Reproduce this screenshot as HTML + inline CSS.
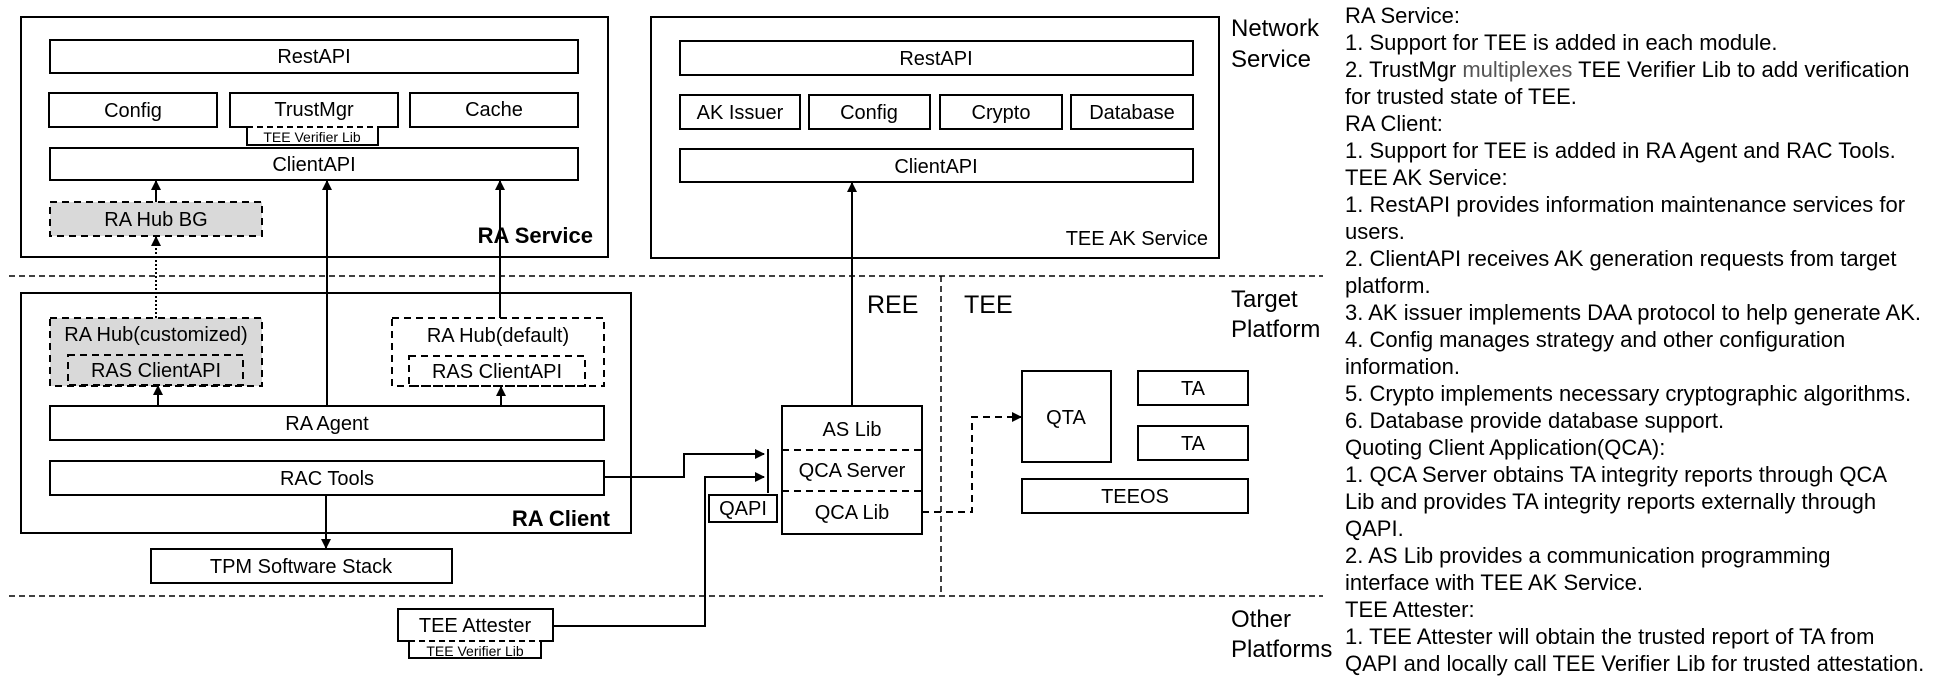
<!DOCTYPE html>
<html><head><meta charset="utf-8"><style>
html,body{margin:0;padding:0;background:#fff;}
svg{display:block;font-family:"Liberation Sans",Arial,sans-serif;}
</style></head><body>
<svg width="1956" height="689" viewBox="0 0 1956 689" xmlns="http://www.w3.org/2000/svg">
<defs>
<marker id="ar" markerWidth="10" markerHeight="10" refX="9" refY="5" orient="auto" markerUnits="userSpaceOnUse"><path d="M0,0 L10,5 L0,10 z" fill="#000"/></marker>
</defs>
<g fill="none" stroke="#000" stroke-width="2">
<rect x="21" y="17" width="587" height="240"/>
<rect x="50" y="40" width="528" height="33"/>
<rect x="49" y="93" width="168" height="34"/>
<rect x="230" y="93" width="168" height="34"/>
<rect x="410" y="93" width="168" height="34"/>
<path d="M247 127 V145 H378 V127"/>
<line x1="247" y1="127" x2="378" y2="127" stroke="#fff"/>
<line x1="247" y1="127" x2="378" y2="127" stroke-dasharray="6,4"/>
<rect x="50" y="148" width="528" height="32"/>
<rect x="50" y="202" width="212" height="34" fill="#d9d9d9" stroke-dasharray="7,5"/>
<rect x="21" y="293" width="610" height="240"/>
<rect x="50" y="318" width="212" height="68" fill="#d9d9d9" stroke-dasharray="7,5"/>
<rect x="68" y="355" width="175" height="30" stroke-dasharray="7,5"/>
<rect x="392" y="318" width="212" height="68" stroke-dasharray="7,5"/>
<rect x="409" y="356" width="176" height="30" stroke-dasharray="7,5"/>
<rect x="50" y="406" width="554" height="34"/>
<rect x="50" y="461" width="554" height="34"/>
<rect x="151" y="549" width="301" height="34"/>
<rect x="651" y="17" width="568" height="241"/>
<rect x="680" y="41" width="513" height="34"/>
<rect x="680" y="95" width="120" height="34"/>
<rect x="809" y="95" width="121" height="34"/>
<rect x="940" y="95" width="122" height="34"/>
<rect x="1071" y="95" width="122" height="34"/>
<rect x="680" y="149" width="513" height="33"/>
<rect x="782" y="406" width="140" height="128"/>
<line x1="782" y1="450" x2="922" y2="450" stroke-dasharray="7,5"/>
<line x1="782" y1="491" x2="922" y2="491" stroke-dasharray="7,5"/>
<rect x="709" y="495" width="68" height="27"/>
<line x1="768" y1="449" x2="768" y2="493"/>
<rect x="1022" y="371" width="89" height="91"/>
<rect x="1138" y="371" width="110" height="34"/>
<rect x="1138" y="426" width="110" height="34"/>
<rect x="1022" y="479" width="226" height="34"/>
<rect x="398" y="609" width="155" height="32"/>
<path d="M409 641 V658 H541 V641"/>
<line x1="409" y1="641" x2="541" y2="641" stroke="#fff"/>
<line x1="409" y1="641" x2="541" y2="641" stroke-dasharray="6,4"/>
<line x1="9" y1="276" x2="1323" y2="276" stroke-width="1.5" stroke-dasharray="6,4"/>
<line x1="9" y1="596" x2="1323" y2="596" stroke-width="1.5" stroke-dasharray="6,4"/>
<line x1="941" y1="276" x2="941" y2="596" stroke-width="1.5" stroke-dasharray="6,4"/>
<line x1="156" y1="202" x2="156" y2="181" marker-end="url(#ar)"/>
<line x1="156" y1="318" x2="156" y2="237" stroke-dasharray="2,2" marker-end="url(#ar)"/>
<line x1="327" y1="406" x2="327" y2="181" marker-end="url(#ar)"/>
<line x1="500" y1="318" x2="500" y2="181" marker-end="url(#ar)"/>
<line x1="158" y1="406" x2="158" y2="386" marker-end="url(#ar)"/>
<line x1="501" y1="406" x2="501" y2="387" marker-end="url(#ar)"/>
<line x1="326" y1="495" x2="326" y2="548" marker-end="url(#ar)"/>
<line x1="852" y1="406" x2="852" y2="183" marker-end="url(#ar)"/>
<polyline points="604,477 684,477 684,454 764,454" marker-end="url(#ar)"/>
<polyline points="553,626 705,626 705,477 764,477" marker-end="url(#ar)"/>
<polyline points="922,512 972,512 972,417 1021,417" stroke-dasharray="7,5" marker-end="url(#ar)"/>
</g>
<g font-size="20" text-anchor="middle" dominant-baseline="central" fill="#000">
<text x="314" y="57">RestAPI</text>
<text x="133" y="111">Config</text>
<text x="314" y="110">TrustMgr</text>
<text x="494" y="110">Cache</text>
<text x="312" y="137" font-size="14">TEE Verifier Lib</text>
<text x="314" y="165">ClientAPI</text>
<text x="156" y="220">RA Hub BG</text>
<text x="156" y="335">RA Hub(customized)</text>
<text x="156" y="371">RAS ClientAPI</text>
<text x="498" y="336">RA Hub(default)</text>
<text x="497" y="372">RAS ClientAPI</text>
<text x="327" y="424">RA Agent</text>
<text x="327" y="479">RAC Tools</text>
<text x="301" y="567">TPM Software Stack</text>
<text x="475" y="626">TEE Attester</text>
<text x="475" y="651" font-size="14">TEE Verifier Lib</text>
<text x="936" y="59">RestAPI</text>
<text x="740" y="113">AK Issuer</text>
<text x="869" y="113">Config</text>
<text x="1001" y="113">Crypto</text>
<text x="1132" y="113">Database</text>
<text x="936" y="167">ClientAPI</text>
<text x="852" y="430">AS Lib</text>
<text x="852" y="471">QCA Server</text>
<text x="852" y="513">QCA Lib</text>
<text x="743" y="509">QAPI</text>
<text x="1066" y="418">QTA</text>
<text x="1193" y="389">TA</text>
<text x="1193" y="444">TA</text>
<text x="1135" y="497">TEEOS</text>
</g>
<g fill="#000">
<text x="593" y="243" font-size="22" font-weight="bold" text-anchor="end">RA Service</text>
<text x="610" y="526" font-size="22" font-weight="bold" text-anchor="end">RA Client</text>
<text x="1208" y="245" font-size="20" text-anchor="end">TEE AK Service</text>
<text x="867" y="313" font-size="25">REE</text>
<text x="964" y="313" font-size="25">TEE</text>
<g font-size="24">
<text x="1231" y="36">Network</text><text x="1231" y="67">Service</text>
<text x="1231" y="307">Target</text><text x="1231" y="337">Platform</text>
<text x="1231" y="627">Other</text><text x="1231" y="657">Platforms</text>
</g>
<g font-size="22">
<text x="1345" y="23">RA Service:</text>
<text x="1345" y="50">1. Support for TEE is added in each module.</text>
<text x="1345" y="77">2. TrustMgr <tspan fill="#555">multiplexes</tspan> TEE Verifier Lib to add verification</text>
<text x="1345" y="104">for trusted state of TEE.</text>
<text x="1345" y="131">RA Client:</text>
<text x="1345" y="158">1. Support for TEE is added in RA Agent and RAC Tools.</text>
<text x="1345" y="185">TEE AK Service:</text>
<text x="1345" y="212">1. RestAPI provides information maintenance services for</text>
<text x="1345" y="239">users.</text>
<text x="1345" y="266">2. ClientAPI receives AK generation requests from target</text>
<text x="1345" y="293">platform.</text>
<text x="1345" y="320">3. AK issuer implements DAA protocol to help generate AK.</text>
<text x="1345" y="347">4. Config manages strategy and other configuration</text>
<text x="1345" y="374">information.</text>
<text x="1345" y="401">5. Crypto implements necessary cryptographic algorithms.</text>
<text x="1345" y="428">6. Database provide database support.</text>
<text x="1345" y="455">Quoting Client Application(QCA):</text>
<text x="1345" y="482">1. QCA Server obtains TA integrity reports through QCA</text>
<text x="1345" y="509">Lib and provides TA integrity reports externally through</text>
<text x="1345" y="536">QAPI.</text>
<text x="1345" y="563">2. AS Lib provides a communication programming</text>
<text x="1345" y="590">interface with TEE AK Service.</text>
<text x="1345" y="617">TEE Attester:</text>
<text x="1345" y="644">1. TEE Attester will obtain the trusted report of TA from</text>
<text x="1345" y="671">QAPI and locally call TEE Verifier Lib for trusted attestation.</text>
</g>
</g>
</svg>
</body></html>
